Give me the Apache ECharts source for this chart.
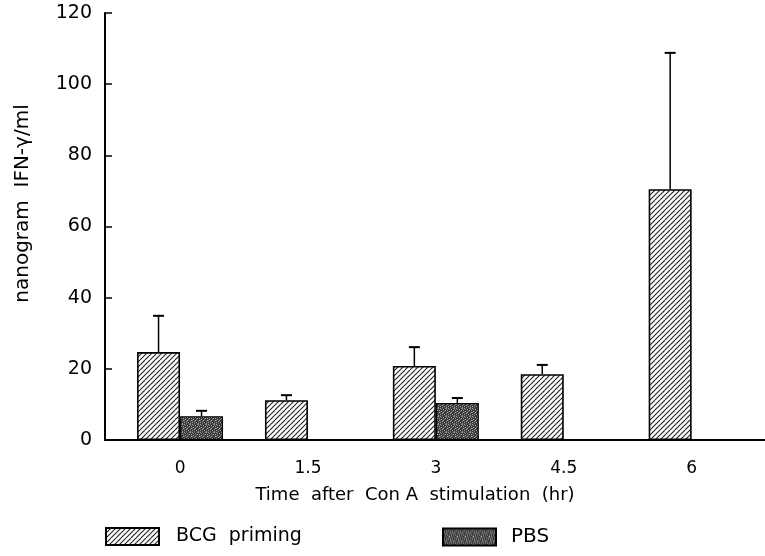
<!DOCTYPE html>
<html>
<head>
<meta charset="utf-8">
<script src="https://cdn.jsdelivr.net/npm/echarts@6/dist/echarts.min.js"></script>
<style>html,body{margin:0;padding:0;background:#fff}#c{width:765px;height:556px}</style>
</head>
<body>
<div id="c"></div>
<script>
// Data
var times = [0, 1.5, 3, 4.5, 6];
var bcgMean = [24.7, 11.2, 20.8, 18.5, 70.5];
var bcgSD   = [10.2, 1.4, 5.3, 2.6, 38.3];
var pbsMean = [6.7, null, 10.4, null, null];
var pbsSD   = [1.5, null, 1.4, null, null];
var yTicks = [0, 20, 40, 60, 80, 100, 120];
var seriesNames = ['BCG  priming', 'PBS'];

function hatchPattern() {
  var c = document.createElement('canvas');
  c.width = 10; c.height = 10;
  var g = c.getContext('2d');
  g.fillStyle = '#fff'; g.fillRect(0, 0, 10, 10);
  g.strokeStyle = '#222'; g.lineWidth = 1.1;
  for (var k = -10; k <= 30; k += 5) {
    g.beginPath(); g.moveTo(k, 0); g.lineTo(k - 10, 10); g.stroke();
  }
  return c;
}
function stipplePattern() {
  var c = document.createElement('canvas');
  c.width = 8; c.height = 8;
  var g = c.getContext('2d');
  g.fillStyle = '#3c3c3c'; g.fillRect(0, 0, 8, 8);
  var light = [[0,0],[3,1],[6,0],[1,3],[5,2],[2,5],[7,4],[4,6],[0,6],[6,7],[3,4],[7,2]];
  g.fillStyle = '#a8a8a8';
  light.forEach(function (p) { g.fillRect(p[0], p[1], 1, 1); });
  var mid = [[1,1],[4,3],[2,7],[6,5],[5,0],[0,4]];
  g.fillStyle = '#777';
  mid.forEach(function (p) { g.fillRect(p[0], p[1], 1, 1); });
  return c;
}

var barW = 43;
function pairs(vals) { return times.map(function (t, i) { return [t, vals[i] == null ? '-' : vals[i]]; }); }
function errData(means, sds, side) {
  var out = [];
  times.forEach(function (t, i) {
    if (means[i] != null && sds[i] != null) out.push([t, means[i], means[i] + sds[i], side]);
  });
  return out;
}
function renderErr(params, api) {
  var x = api.value(0), m = api.value(1), top = api.value(2), side = api.value(3);
  var p0 = api.coord([x, m]), p1 = api.coord([x, top]);
  var cx = p0[0] + side * barW / 2;
  return { type: 'group', children: [
    { type: 'line', shape: { x1: cx, y1: p0[1], x2: cx, y2: p1[1] }, style: { stroke: '#000', lineWidth: 1.5 } },
    { type: 'line', shape: { x1: cx - 5.5, y1: p1[1], x2: cx + 5.5, y2: p1[1] }, style: { stroke: '#000', lineWidth: 2 } }
  ]};
}

var font = 'DejaVu Sans';
var chart = echarts.init(document.getElementById('c'), null, { renderer: 'canvas' });
chart.setOption({
  animation: false,
  backgroundColor: '#fff',
  grid: { left: 105, right: 0, top: 13, bottom: 116 },
  xAxis: {
    type: 'value', min: -0.88, max: 6.86,
    axisLine: { onZero: false, lineStyle: { color: '#000', width: 2 } },
    axisTick: { show: false },
    splitLine: { show: false },
    axisLabel: { customValues: times, color: '#000', fontFamily: font, fontSize: 17, margin: 20 },
    name: 'Time  after  Con A  stimulation  (hr)',
    nameLocation: 'middle', nameGap: 46,
    nameTextStyle: { color: '#000', fontFamily: font, fontSize: 18, padding: [0, 40, 0, 0] }
  },
  yAxis: {
    type: 'value', min: 0, max: 120, interval: 20,
    axisLine: { show: true, onZero: false, lineStyle: { color: '#000', width: 2 } },
    axisTick: { show: true, inside: true, length: 7, lineStyle: { color: '#000', width: 1.5 } },
    splitLine: { show: false },
    axisLabel: { color: '#000', fontFamily: font, fontSize: 19, margin: 13 },
    name: 'nanogram  IFN-γ/ml',
    nameLocation: 'middle', nameGap: 72,
    nameTextStyle: { color: '#000', fontFamily: font, fontSize: 20, padding: [0, 0, 0, 46] }
  },
  legend: [
    { data: [seriesNames[0]], left: 105, top: 527, padding: 0, itemWidth: 53, itemHeight: 17, icon: 'rect',
      textStyle: { color: '#000', fontFamily: font, fontSize: 19, padding: [0, 0, 0, 12] } },
    { data: [seriesNames[1]], left: 442, top: 527, padding: 0, itemWidth: 53, itemHeight: 17, icon: 'rect',
      textStyle: { color: '#000', fontFamily: font, fontSize: 20, padding: [0, 0, 0, 10] } }
  ],
  series: [
    { name: seriesNames[0], type: 'bar', data: pairs(bcgMean), barWidth: barW, barGap: '0%',
      itemStyle: { color: { image: hatchPattern(), repeat: 'repeat' }, borderColor: '#000', borderWidth: 1.6 } },
    { name: seriesNames[1], type: 'bar', data: pairs(pbsMean), barWidth: barW, barGap: '0%',
      itemStyle: { color: { image: stipplePattern(), repeat: 'repeat' }, borderColor: '#000', borderWidth: 1.2 } },
    { type: 'custom', renderItem: renderErr, data: errData(bcgMean, bcgSD, -1), z: 5, silent: true },
    { type: 'custom', renderItem: renderErr, data: errData(pbsMean, pbsSD, 1), z: 5, silent: true }
  ]
});
</script>
</body>
</html>
